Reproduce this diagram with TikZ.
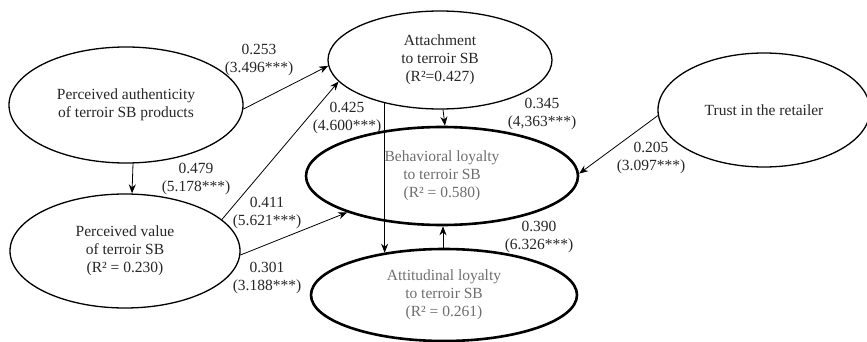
\documentclass[tikz,border=0pt]{standalone}
\usepackage{fontspec}
\setmainfont{Liberation Serif}
\usetikzlibrary{shapes.geometric,arrows.meta,calc}
\definecolor{txt}{HTML}{262626}
\definecolor{gtxt}{HTML}{6E6E6E}
\begin{document}
\begin{tikzpicture}[x=1pt,y=-1pt,
  font=\fontsize{15.5}{18}\selectfont,
  construct/.style={ellipse,draw,line width=1.3pt,inner sep=0pt,align=center,text=txt},
  outcome/.style={ellipse,draw,line width=2.6pt,inner sep=0pt,align=center,text=gtxt},
  path/.style={line width=0.8pt,-{Stealth[length=9pt,width=7pt]}},
  coef/.style={align=center,inner sep=0pt,text=txt}]
\useasboundingbox (0,0) rectangle (867,342);
\node[construct,minimum width=234pt,minimum height=116pt] (auth) at (126,105) {Perceived authenticity\\of terroir SB products};
\node[construct,minimum width=224pt,minimum height=98pt] (att) at (440,60) {Attachment\\to terroir SB\\(R²=0.427)};
\node[construct,minimum width=212pt,minimum height=114pt] (trust) at (764,110) {Trust in the retailer};
\node[outcome,minimum width=272pt,minimum height=98pt] (beh) at (442,176) {Behavioral loyalty\\to terroir SB\\(R² = 0.580)};
\node[outcome,minimum width=266pt,minimum height=92pt] (atl) at (444,295) {Attitudinal loyalty\\to terroir SB\\(R² = 0.261)};
\node[construct,minimum width=230pt,minimum height=114pt] (val) at (125,251) {Perceived value\\of terroir SB\\(R² = 0.230)};
% connectors
\draw[path] (auth.358) -- (att.183);
\draw[path] (val.18) -- (att.192);
\draw[path] ([xshift=7pt]auth.south) -- ([xshift=7pt]val.north);
\draw[path] ([xshift=3pt]att.south) -- ([xshift=3pt]beh.north);
\draw[path] (att.218) -- (att.218 |- atl.145);
\draw[path] (val.358) -- (beh.201);
\draw[path] ([xshift=-1pt]atl.north) -- ([xshift=-1pt]atl.north |- beh.south);
\draw[path] (trust.183) -- (beh.1);
% coefficients
\node[coef] (c1) at (259,60) {0.253\\(3.496***)};
\node[coef] (c2) at (347,117.5) {0.425\\(4.600***)};
\node[coef] (c3) at (196,179) {0.479\\(5.178***)};
\node[coef] (c4) at (267,212.5) {0.411\\(5.621***)};
\node[coef] (c5) at (267,277.5) {0.301\\(3.188***)};
\node[coef] (c6) at (542,114) {0.345\\(4,363***)};
\node[coef] (c7) at (651,157.5) {0.205\\(3.097***)};
\node[coef] (c8) at (539,236.5) {0.390\\(6.326***)};
\end{tikzpicture}
\end{document}
